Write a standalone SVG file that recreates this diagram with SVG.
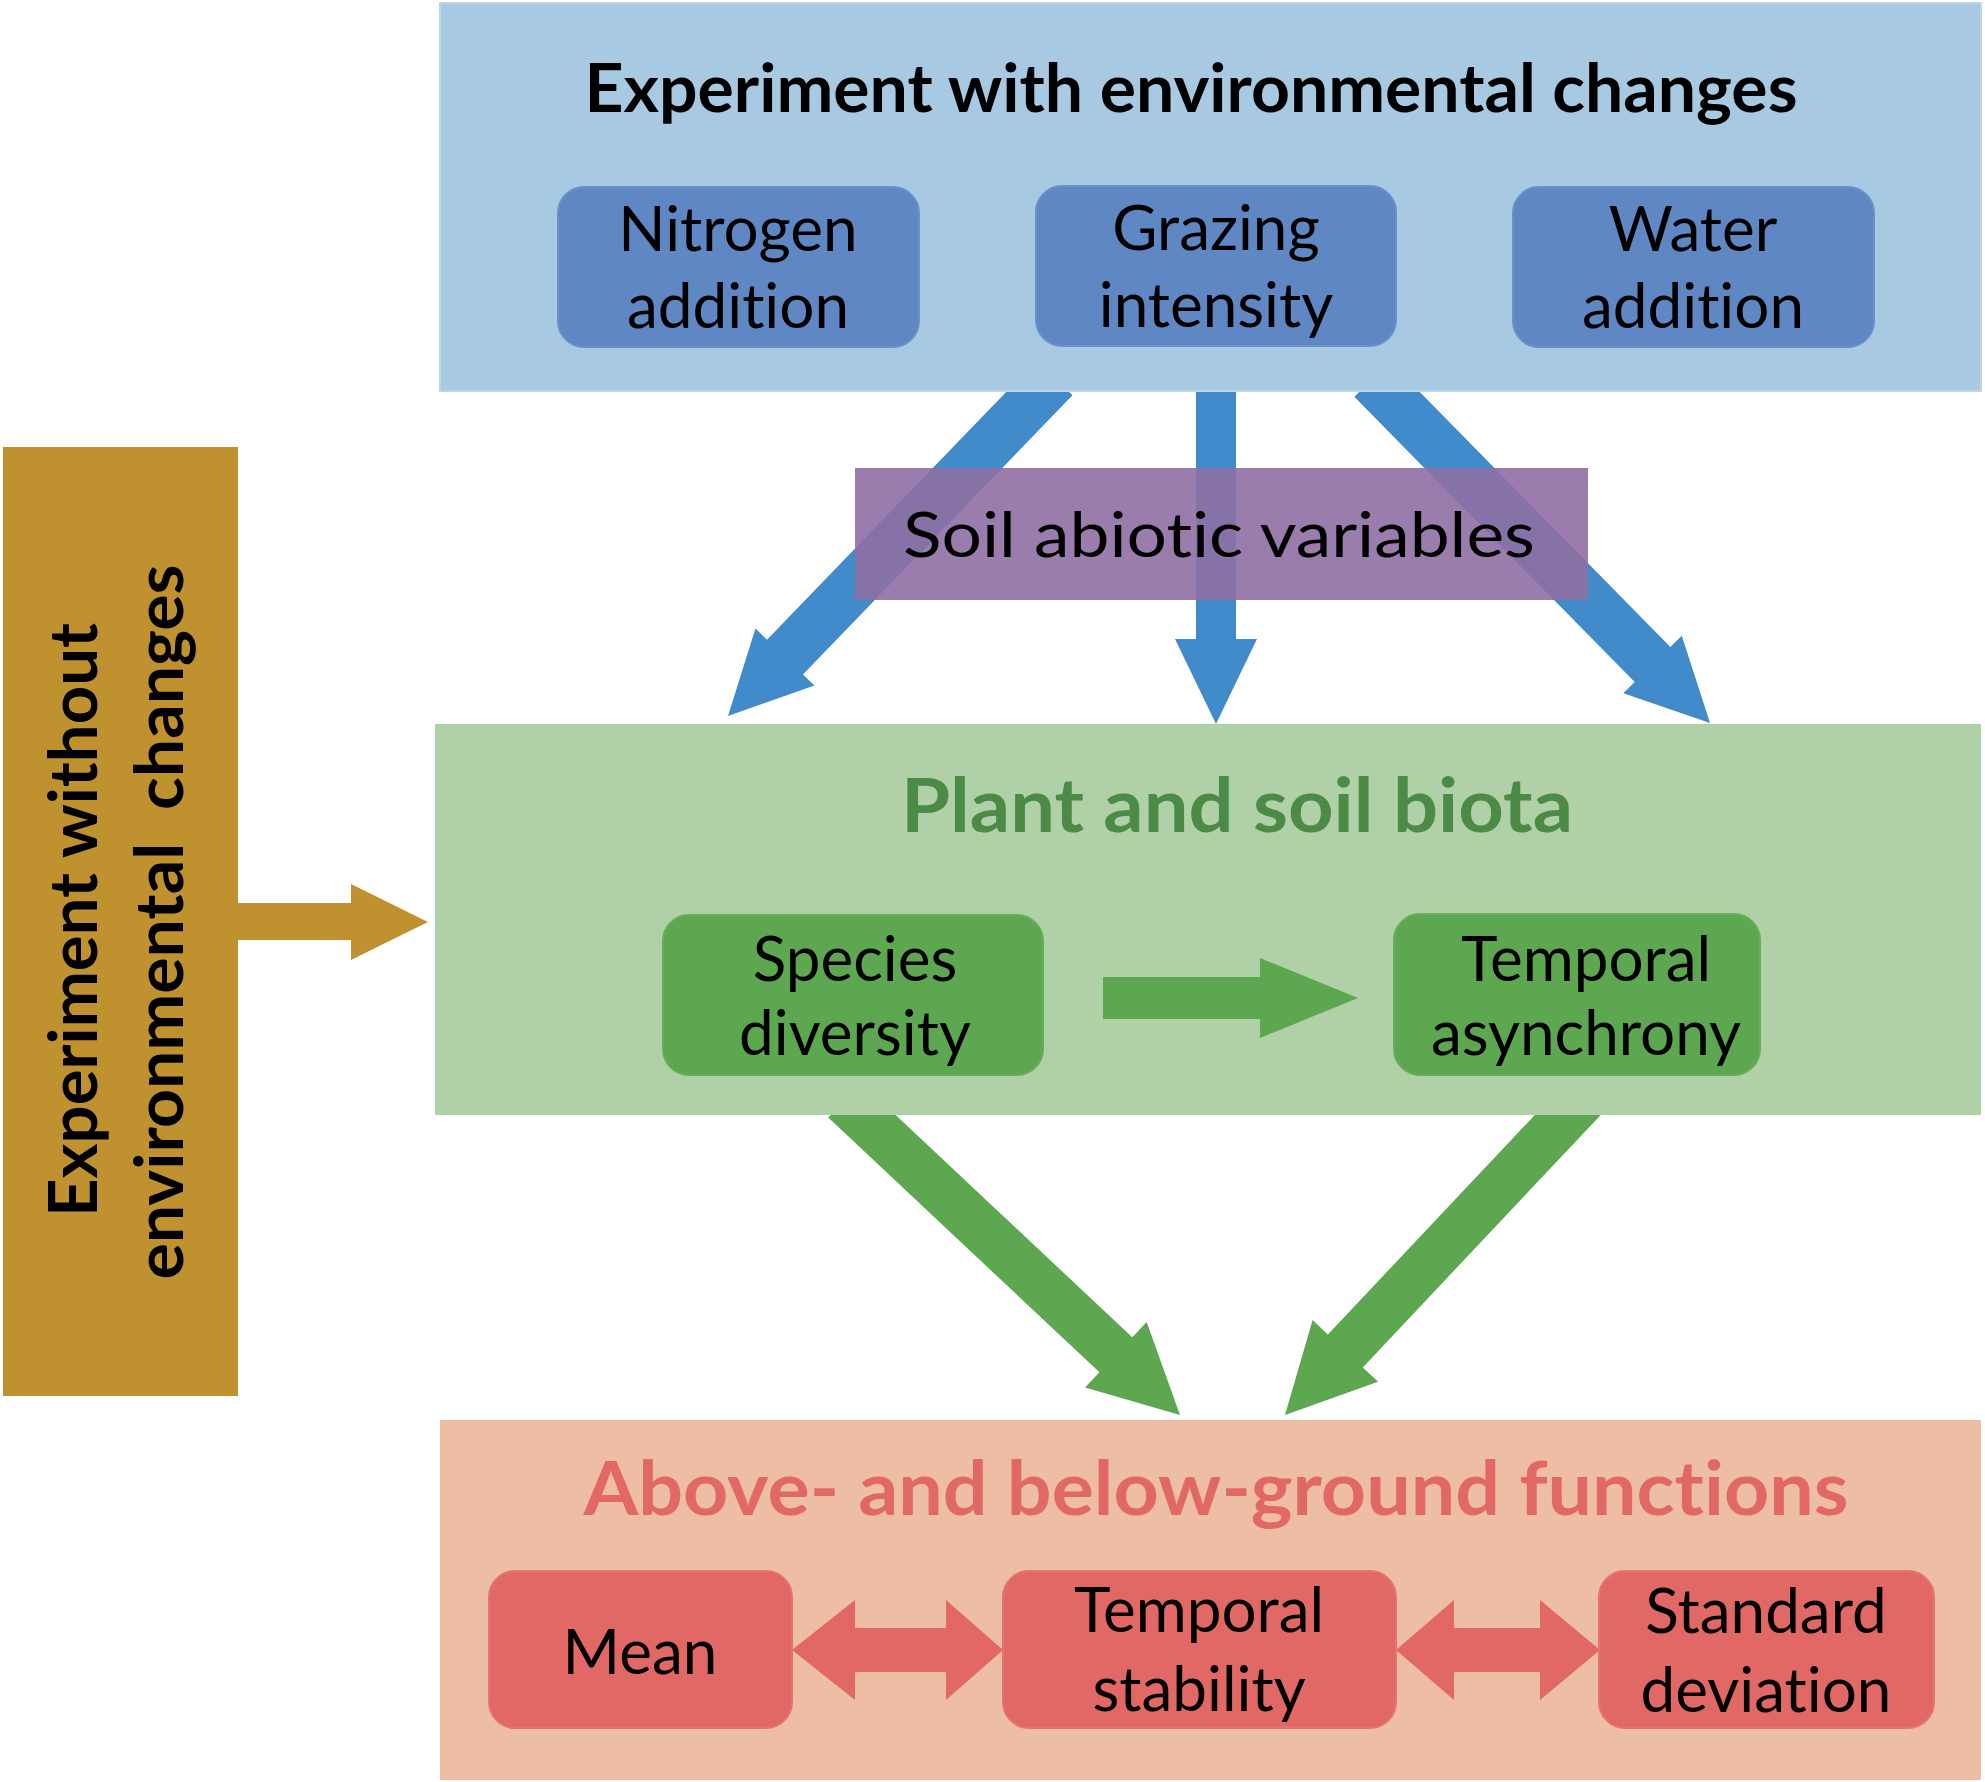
<svg xmlns="http://www.w3.org/2000/svg" width="1985" height="1782" viewBox="0 0 1985 1782">
<style>
.t{font-family:Lato,"Open Sans","Liberation Sans",sans-serif;fill:#000;text-anchor:middle;font-variant-ligatures:none;font-feature-settings:"liga" 0,"clig" 0}
.b{font-weight:bold}
.box{font-size:62px}
.blueArrow{fill:#428bca}
.greenArrow{fill:#5ea751}
.pinkArrow{fill:#e26866}
</style>
<rect width="1985" height="1782" fill="#ffffff"/>
<g id="connectors">
  <polygon class="blueArrow" transform="translate(728,716) rotate(134)" points="-470,-25 -82,-25 -82,-41 0,0 -82,41 -82,25 -470,25"/>
  <polygon class="blueArrow" transform="translate(1216,724) rotate(90)" points="-345,-20 -85,-20 -85,-41 0,0 -85,41 -85,20 -345,20"/>
  <polygon class="blueArrow" transform="translate(1710,723) rotate(45.5)" points="-482,-25 -82,-25 -82,-41 0,0 -82,41 -82,25 -482,25"/>
  <polygon class="greenArrow" transform="translate(1180,1415) rotate(43.2)" points="-460,-24 -88,-24 -88,-45 0,0 -88,45 -88,24 -460,24"/>
  <polygon class="greenArrow" transform="translate(1285,1415) rotate(133.3)" points="-435,-24 -88,-24 -88,-45 0,0 -88,45 -88,24 -435,24"/>
</g>
<g id="env-changes">
  <rect x="440" y="3" width="1541" height="388" fill="#a7cae2" stroke="#b9d5ea" stroke-width="2"/>
  <text class="t b" x="1191" y="112" font-size="66" textLength="1213" lengthAdjust="spacingAndGlyphs">Experiment with environmental changes</text>
</g>
<g id="nitrogen">
  <rect x="558" y="187" width="361" height="160" rx="26" fill="#5f87c3" stroke="#6b90c8" stroke-width="2"/>
  <text class="t box" x="738" y="251">Nitrogen</text>
  <text class="t box" x="738" y="328">addition</text>
</g>
<g id="grazing">
  <rect x="1036" y="186" width="360" height="160" rx="26" fill="#5f87c3" stroke="#6b90c8" stroke-width="2"/>
  <text class="t box" x="1216" y="250">Grazing</text>
  <text class="t box" x="1216" y="327">intensity</text>
</g>
<g id="water">
  <rect x="1513" y="187" width="361" height="160" rx="26" fill="#5f87c3" stroke="#6b90c8" stroke-width="2"/>
  <text class="t box" x="1693" y="251">Water</text>
  <text class="t box" x="1693" y="328">addition</text>
</g>
<g id="soil-abiotic">
  <rect x="855" y="468" width="733" height="132" fill="#8f6fa3" fill-opacity="0.9"/>
  <text class="t" x="1219" y="557" font-size="62" textLength="632" lengthAdjust="spacingAndGlyphs">Soil abiotic variables</text>
</g>
<g id="connector-gold">
  <polygon fill="#c0922f" points="236,903 351,903 351,884 428,922 351,960 351,940 236,940"/>
</g>
<g id="no-env-changes">
  <rect x="3" y="447" width="235" height="949" fill="#c0922f"/>
  <text class="t b" transform="translate(97,920) rotate(-90)" font-size="66" textLength="594" lengthAdjust="spacingAndGlyphs">Experiment without</text>
  <text class="t b" transform="translate(183,922) rotate(-90)" font-size="66" textLength="715" lengthAdjust="spacingAndGlyphs" xml:space="preserve">environmental  changes</text>
</g>
<g id="plant-soil-biota">
  <rect x="435" y="724" width="1546" height="391" fill="#b0d0a8"/>
  <text class="t b" x="1237" y="832" font-size="75" style="fill:#4b8b45" textLength="672" lengthAdjust="spacingAndGlyphs">Plant and soil biota</text>
</g>
<g id="connector-green-mid">
  <polygon class="greenArrow" points="1103,977 1260,977 1260,958 1358,998 1260,1038 1260,1019 1103,1019"/>
</g>
<g id="species-diversity">
  <rect x="663" y="915" width="380" height="160" rx="26" fill="#5ea751" stroke="#68ad5b" stroke-width="2"/>
  <text class="t box" x="855" y="981">Species</text>
  <text class="t box" x="855" y="1055">diversity</text>
</g>
<g id="temporal-asynchrony">
  <rect x="1394" y="914" width="366" height="161" rx="26" fill="#5ea751" stroke="#68ad5b" stroke-width="2"/>
  <text class="t box" x="1586" y="981">Temporal</text>
  <text class="t box" x="1586" y="1055">asynchrony</text>
</g>
<g id="functions">
  <rect x="440" y="1420" width="1541" height="360" fill="#edbea3"/>
  <text class="t b" x="1216" y="1515" font-size="75" style="fill:#e26866" textLength="1265" lengthAdjust="spacingAndGlyphs">Above- and below-ground functions</text>
</g>
<g id="connectors-pink">
  <polygon class="pinkArrow" points="792,1650 855,1600 855,1628 946,1628 946,1600 1003,1650 946,1700 946,1672 855,1672 855,1700"/>
  <polygon class="pinkArrow" points="1396,1650 1454,1600 1454,1628 1540,1628 1540,1600 1600,1650 1540,1700 1540,1672 1454,1672 1454,1700"/>
</g>
<g id="mean">
  <rect x="489" y="1571" width="303" height="157" rx="26" fill="#e26866" stroke="#e57371" stroke-width="2"/>
  <text class="t box" x="640" y="1674">Mean</text>
</g>
<g id="temporal-stability">
  <rect x="1003" y="1571" width="393" height="157" rx="26" fill="#e26866" stroke="#e57371" stroke-width="2"/>
  <text class="t box" x="1199" y="1632">Temporal</text>
  <text class="t box" x="1199" y="1711">stability</text>
</g>
<g id="standard-deviation">
  <rect x="1599" y="1571" width="335" height="157" rx="26" fill="#e26866" stroke="#e57371" stroke-width="2"/>
  <text class="t box" x="1766" y="1633">Standard</text>
  <text class="t box" x="1766" y="1712">deviation</text>
</g>
</svg>
